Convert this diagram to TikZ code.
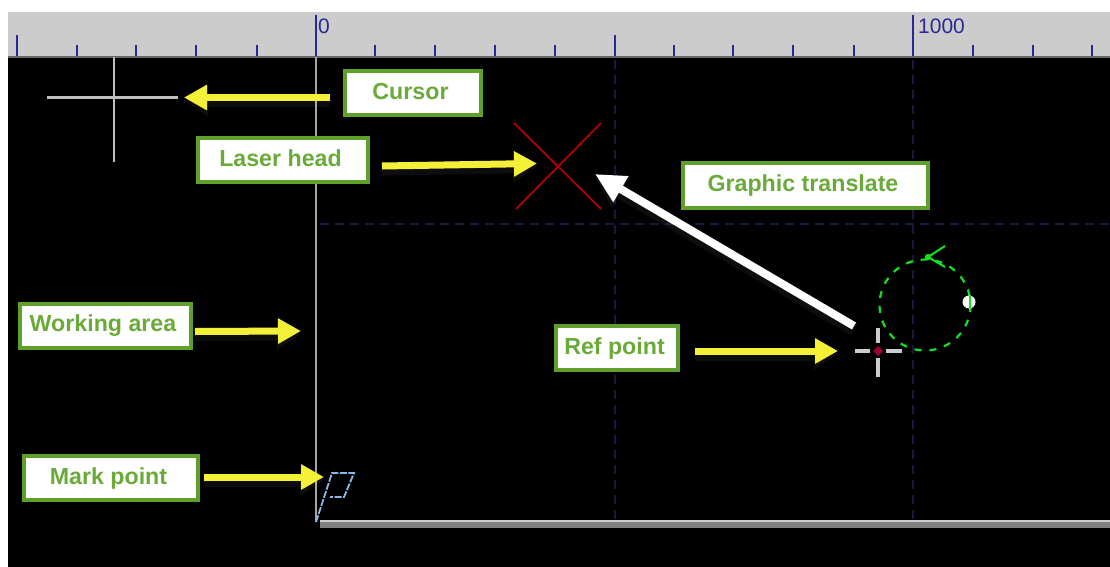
\documentclass[tikz,border=0pt]{standalone}
\usepackage{fontspec}
\setmainfont{Liberation Sans}
\usetikzlibrary{arrows.meta}
\definecolor{lblgreen}{RGB}{94,160,42}
\definecolor{txtgreen}{RGB}{106,170,56}
\definecolor{arrowyel}{RGB}{243,240,55}
\definecolor{rulerblue}{RGB}{40,40,150}
\definecolor{griddark}{RGB}{24,24,64}
\definecolor{circgreen}{RGB}{20,225,30}
\definecolor{flagblue}{RGB}{140,185,230}
\newcommand{\lblt}[1]{\raisebox{3pt}{#1}\kern5pt}
\tikzset{
  x=1pt,y=-1pt,
  lbl/.style={draw=lblgreen,line width=4pt,fill=white,text=txtgreen,font=\fontsize{23.2}{26}\selectfont\bfseries,inner sep=0pt,minimum height=44pt,anchor=north west},
  yarrow/.style={draw=arrowyel,line width=7pt,-{Triangle[length=23pt,width=24pt]},
     preaction={draw=white,opacity=.05,line width=13pt,-{Triangle[length=24pt,width=30pt]},transform canvas={yshift=-3pt}}},
  warrow/.style={draw=white,line width=8pt,-{Triangle[length=30pt,width=28pt]},
     preaction={draw=white,opacity=.05,line width=14pt,-{Triangle[length=30pt,width=34pt]},transform canvas={yshift=-3pt}}},
  maj/.style={draw=rulerblue,line width=2pt},
  griddash/.style={draw=griddark,line width=1.6pt,dash pattern=on 9pt off 6pt},
  rulertext/.style={text=rulerblue,font=\fontsize{21}{24}\selectfont,inner sep=0pt,anchor=west},
  crossh/.style={draw=black!20,line width=4pt},
}
\begin{document}
\begin{tikzpicture}
\useasboundingbox (0,0) rectangle (1110,567);
\fill[white] (0,0) rectangle (1110,567);
\fill[black] (8,57) rectangle (1110,567);
\fill[black!20] (8,12) rectangle (1110,57);
\draw[black!60,line width=1.4pt] (8,57) -- (1110,57);
% ruler
\foreach \x in {17,615} \draw[maj] (\x,35) -- (\x,56);
\foreach \x in {316,913} \draw[maj] (\x,15) -- (\x,56);
\foreach \x in {77,136,196,257,375,435,495,555,674,733,793,854,973,1033,1092} \draw[maj] (\x,45) -- (\x,56);
\node[rulertext] at (318,26) {0};
\node[rulertext] at (918,26) {1000};
% grid
\draw[griddash] (615,60) -- (615,520);
\draw[griddash] (913,60) -- (913,520);
\draw[griddash] (320,224) -- (1110,224);
% work area frame
\draw[black!35,line width=2pt] (316,57) -- (316,522);
\fill[black!50] (320,520) rectangle (1110,528);
\fill[black!20] (320,520) rectangle (1110,522);
% cursor
\draw[black!25,line width=2.4pt] (47,97.5) -- (178,97.5);
\draw[black!25,line width=2.4pt] (114,57) -- (114,162);
% laser head
\draw[red!70!black,line width=1.8pt] (514,123) -- (601,209);
\draw[red!70!black,line width=1.8pt] (601,123) -- (516,209);
% mark point
\draw[flagblue,line width=1.8pt,dash pattern=on 7pt off 1.5pt] (316,522) -- (332,473) -- (354,473) -- (344,497) -- (330,497);
% target circle
\draw[circgreen,line width=2.2pt,dash pattern=on 7pt off 8pt] (925,305) circle[radius=45.5];
\draw[circgreen,line width=2pt] (945,246) -- (928,257) -- (945,267);
\fill[circgreen] (928,257) circle[radius=3.2];
\fill[white] (969,302) circle[radius=6.5];
\draw[circgreen,line width=2pt] (970,296) -- (970,308);
% ref point
\draw[crossh] (855,351) -- (870,351);
\draw[crossh] (886,351) -- (902,351);
\draw[crossh] (878,328) -- (878,343);
\draw[crossh] (878,358) -- (878,377);
\fill[purple!80!black] (878,346) -- (883,351) -- (878,356) -- (873,351) -- cycle;
% labels
\node[lbl,minimum width=136pt] (cursor) at (343,69) {\lblt{Cursor}};
\node[lbl,minimum width=170pt] (laser) at (196,136) {\lblt{Laser head}};
\node[lbl,minimum width=171pt] (work) at (18,302) {\lblt{Working area}};
\node[lbl,minimum width=122pt] (ref) at (554,324) {\lblt{Ref point}};
\node[lbl,minimum width=174pt] (mark) at (22,454) {\lblt{Mark point}};
\node[lbl,minimum width=245pt,minimum height=45pt] (graphic) at (681,161) {\lblt{Graphic translate}};
% targets
\coordinate (cursorT) at (184,97.5);
\coordinate (laserT) at (537,163.5);
\coordinate (workT) at (301,331);
\coordinate (refT) at (838,351);
\coordinate (markT) at (324,477);
\coordinate (transS) at (854,326);
\coordinate (transT) at (595,174);
% arrows
\draw[yarrow] ([xshift=-13pt,yshift=-4.5pt]cursor.west) -- (cursorT);
\draw[yarrow] ([xshift=12pt,yshift=-6pt]laser.east) -- (laserT);
\draw[yarrow] ([xshift=2pt,yshift=-5.5pt]work.east) -- (workT);
\draw[yarrow] ([xshift=15pt,yshift=-3pt]ref.east) -- (refT);
\draw[yarrow] ([xshift=4pt,yshift=1pt]mark.east) -- (markT);
\draw[warrow] (transS) -- (transT);
\end{tikzpicture}
\end{document}
